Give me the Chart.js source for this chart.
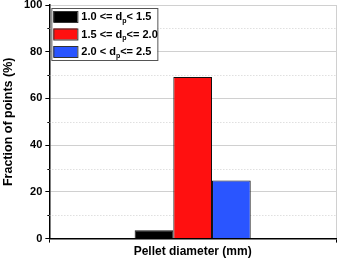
<!DOCTYPE html>
<html>
<head>
<meta charset="utf-8">
<script src="https://cdn.jsdelivr.net/npm/chart.js@4"></script>
<style>
    html, body { margin: 0; padding: 0; background: #fff; }
    #wrap { width: 340px; height: 261px; }
</style>
</head>
<body>
<div id="wrap"><canvas id="poreChart" width="340" height="261"></canvas></div>
<script>
// values
const categories = ['Pellet diameter'];
const seriesNames = [
    ['1.0 <= d', 'p', '< 1.5'],
    ['1.5 <= d', 'p', '<= 2.0'],
    ['2.0 < d', 'p', '<= 2.5']
];
const smallValues = [3.6];
const midValues = [69.2];
const largeValues = [24.9];
const seriesColors = ['#000000', '#ff1010', '#2a55ff'];
const yTicks = [0, 20, 40, 60, 80, 100];
const yMinorTicks = [10, 30, 50, 70, 90];

const FONT = '"Liberation Sans", Arial, sans-serif';

// dotted minor grid + small ticks between the labelled ones
const minorGrid = {
    id: 'minorGrid',
    beforeDatasetsDraw(chart) {
        const { ctx, chartArea } = chart;
        const y = chart.scales.y;
        ctx.save();
        yMinorTicks.forEach(v => {
            const py = Math.round(y.getPixelForValue(v)) + 0.5;
            ctx.strokeStyle = '#d0d0d0';
            ctx.lineWidth = 1;
            ctx.setLineDash([1, 2]);
            ctx.beginPath();
            ctx.moveTo(chartArea.left, py);
            ctx.lineTo(chartArea.right, py);
            ctx.stroke();
            ctx.setLineDash([]);
            ctx.strokeStyle = '#000';
            ctx.beginPath();
            ctx.moveTo(chartArea.left - 2, py);
            ctx.lineTo(chartArea.left, py);
            ctx.stroke();
        });
        ctx.restore();
    }
};

// boxed legend with subscript p
const boxLegend = {
    id: 'boxLegend',
    afterDraw(chart) {
        const { ctx, chartArea } = chart;
        const x0 = chartArea.left + 2;
        const y0 = chartArea.top + 3;
        const w = 106, rowH = 17.5, h = 52;
        ctx.save();
        ctx.fillStyle = '#fff';
        ctx.fillRect(x0, y0, w, h);
        ctx.strokeStyle = '#555';
        ctx.lineWidth = 1;
        ctx.strokeRect(x0 + 0.5, y0 + 0.5, w, h);
        chart.data.datasets.forEach((ds, i) => {
            const cy = y0 + 8 + i * rowH;
            ctx.fillStyle = ds.backgroundColor;
            ctx.fillRect(x0 + 2, cy - 5, 24, 11);
            ctx.strokeStyle = '#333';
            ctx.strokeRect(x0 + 2.5, cy - 4.5, 24, 11);
            const parts = seriesNames[i];
            let tx = x0 + 30;
            ctx.fillStyle = '#000';
            ctx.textBaseline = 'middle';
            ctx.font = 'bold 11px ' + FONT;
            ctx.fillText(parts[0], tx, cy + 1);
            tx += ctx.measureText(parts[0]).width;
            ctx.font = 'bold 7px ' + FONT;
            ctx.fillText(parts[1], tx, cy + 5);
            tx += ctx.measureText(parts[1]).width;
            ctx.font = 'bold 11px ' + FONT;
            ctx.fillText(parts[2], tx, cy + 1);
        });
        ctx.restore();
    }
};

const ctx = document.getElementById('poreChart').getContext('2d');
new Chart(ctx, {
    type: 'bar',
    data: {
        labels: categories,
        datasets: [
            { label: seriesNames[0].join(''), data: smallValues, backgroundColor: seriesColors[0] },
            { label: seriesNames[1].join(''), data: midValues, backgroundColor: seriesColors[1] },
            { label: seriesNames[2].join(''), data: largeValues, backgroundColor: seriesColors[2] }
        ].map(d => Object.assign(d, {
            borderColor: '#111',
            borderWidth: 1,
            categoryPercentage: 0.405,
            barPercentage: 1
        }))
    },
    options: {
        responsive: false,
        animation: false,
        layout: { padding: { top: 5, right: 4, left: 1, bottom: 2 } },
        plugins: {
            legend: { display: false },
            tooltip: { enabled: false }
        },
        scales: {
            x: {
                grid: {
                    offset: true,
                    color: '#d0d0d0',
                    tickColor: '#000',
                    tickLength: 4
                },
                border: { color: '#000', width: 1.5 },
                ticks: { display: false },
                title: {
                    display: true,
                    text: 'Pellet diameter (mm)',
                    color: '#000',
                    font: { family: FONT, size: 12, weight: 'bold' },
                    padding: { top: 2, bottom: 0 }
                }
            },
            y: {
                min: 0,
                max: 100,
                afterBuildTicks(scale) {
                    scale.ticks = yTicks.map(v => ({ value: v }));
                },
                afterFit(scale) {
                    // let the "100" label hang over the top edge like the original
                    scale.paddingTop = 0;
                },
                grid: {
                    color: '#d0d0d0',
                    tickColor: '#000',
                    tickLength: 4
                },
                border: { color: '#000', width: 1.5 },
                ticks: {
                    color: '#000',
                    padding: 3,
                    font: { family: FONT, size: 11, weight: 'bold' }
                },
                title: {
                    display: true,
                    text: 'Fraction of points (%)',
                    color: '#000',
                    font: { family: FONT, size: 12.5, weight: 'bold' },
                    padding: { top: 0, bottom: 5 }
                }
            }
        }
    },
    plugins: [minorGrid, boxLegend]
});
</script>
</body>
</html>
